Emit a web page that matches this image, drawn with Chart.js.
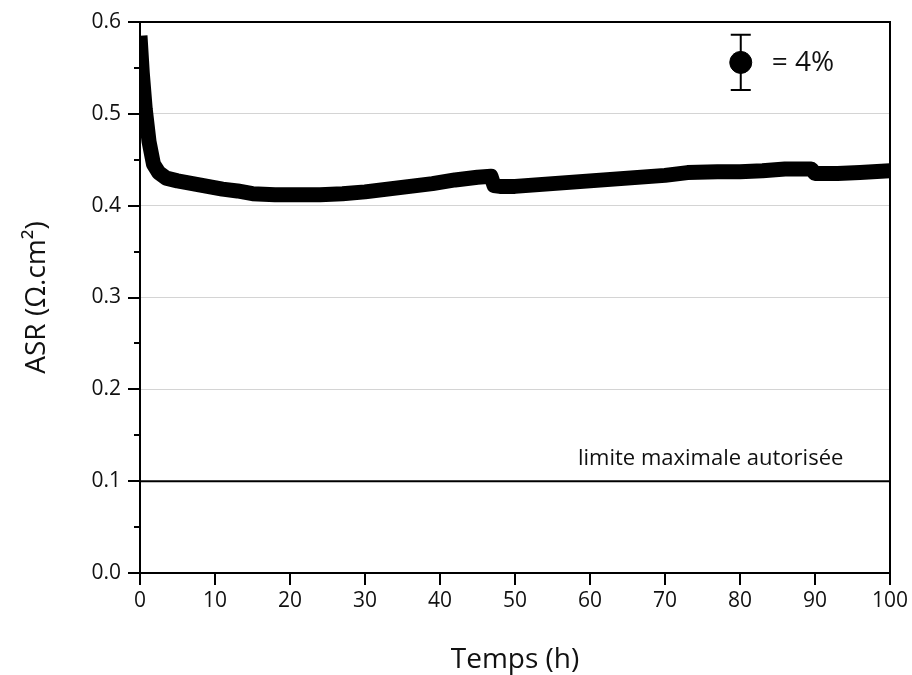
<!DOCTYPE html>
<html lang="fr">
<head>
    <meta charset="UTF-8">
    <title>ASR vs Temps</title>
    <script src="https://cdn.jsdelivr.net/npm/chart.js@4.4.1/dist/chart.umd.min.js"></script>
    <style>
        body { margin: 0; background: #fff; }
        .chart-box { width: 912px; height: 675px; }
    </style>
</head>
<body>
<div class="chart-box"><canvas id="asrChart"></canvas></div>
<script>
    // donnees
    const temps = [0, 0.3, 0.7, 1.2, 1.8, 2.5, 3.5, 5, 7, 9, 11, 13, 15, 18, 21, 24, 27, 30, 33, 36, 39, 42, 45, 46.8, 47.2, 48, 50, 55, 60, 65, 70, 73, 77, 80, 83, 86, 89.5, 90, 93, 96, 100];
    const asr = [0.585, 0.545, 0.505, 0.47, 0.445, 0.436, 0.43, 0.427, 0.424, 0.421, 0.418, 0.416, 0.413, 0.412, 0.412, 0.412, 0.413, 0.415, 0.418, 0.421, 0.424, 0.428, 0.431, 0.432, 0.422, 0.421, 0.421, 0.424, 0.427, 0.43, 0.433, 0.436, 0.437, 0.437, 0.438, 0.44, 0.44, 0.435, 0.435, 0.436, 0.438];

    // limite maximale autorisee
    const limiteX = [0, 100];
    const limiteY = [0.1, 0.1];
    const limiteTexte = 'limite maximale autorisée';

    // symbole de la barre d'erreur (= 4%)
    const cleX = [80.1];
    const cleY = [0.556];
    const cleErr = [0.03];
    const cleTexte = '= 4%';

    const xTicks = [0, 10, 20, 30, 40, 50, 60, 70, 80, 90, 100];
    const yTicks = [0.0, 0.1, 0.2, 0.3, 0.4, 0.5, 0.6];

    const police = '"Open Sans", "DejaVu Sans", sans-serif';
    Chart.defaults.font.family = police;
    Chart.defaults.color = '#111';

    function isMajor(v, step) {
        return Math.abs(v / step - Math.round(v / step)) < 1e-6;
    }

    // cadre, graduations, barre d'erreur et textes
    const decorPlugin = {
        id: 'decor',
        beforeDatasetsDraw(chart) {
            const ctx = chart.ctx;
            const xs = chart.scales.x, ys = chart.scales.y;
            // moustaches derriere le point
            ctx.save();
            ctx.strokeStyle = '#000';
            ctx.lineWidth = 2;
            for (let i = 0; i < cleX.length; i++) {
                const px = xs.getPixelForValue(cleX[i]);
                const top = ys.getPixelForValue(cleY[i] + cleErr[i]);
                const bot = ys.getPixelForValue(cleY[i] - cleErr[i]);
                ctx.beginPath();
                ctx.moveTo(px, top); ctx.lineTo(px, bot);
                ctx.moveTo(px - 10, top); ctx.lineTo(px + 10, top);
                ctx.moveTo(px - 10, bot); ctx.lineTo(px + 10, bot);
                ctx.stroke();
            }
            ctx.restore();
        },
        afterDraw(chart) {
            const ctx = chart.ctx;
            const a = chart.chartArea;
            const xs = chart.scales.x, ys = chart.scales.y;
            ctx.save();
            ctx.strokeStyle = '#000';
            ctx.lineWidth = 2;
            ctx.strokeRect(a.left, a.top, a.right - a.left, a.bottom - a.top);
            // graduations
            ctx.beginPath();
            ys.ticks.forEach(t => {
                const py = Math.round(ys.getPixelForValue(t.value));
                const len = isMajor(t.value, 0.1) ? 12 : 6;
                ctx.moveTo(a.left - len, py); ctx.lineTo(a.left, py);
            });
            xs.ticks.forEach(t => {
                const px = Math.round(xs.getPixelForValue(t.value));
                const len = isMajor(t.value, 10) ? 12 : 6;
                ctx.moveTo(px, a.bottom); ctx.lineTo(px, a.bottom + len);
            });
            ctx.stroke();

            // textes
            ctx.fillStyle = '#111';
            ctx.textBaseline = 'middle';
            ctx.font = '22px ' + police;
            ctx.fillText(limiteTexte, xs.getPixelForValue(58.4), ys.getPixelForValue(0.124));
            ctx.font = '28px ' + police;
            ctx.fillText(cleTexte, xs.getPixelForValue(cleX[0]) + 31, ys.getPixelForValue(cleY[0]) + 1);
            ctx.restore();
        }
    };

    new Chart(document.getElementById('asrChart'), {
        type: 'scatter',
        data: {
            datasets: [
                {
                    label: 'ASR',
                    data: temps.map((t, i) => ({ x: t, y: asr[i] })),
                    showLine: true,
                    borderColor: '#000',
                    borderWidth: 15,
                    borderJoinStyle: 'round',
                    pointRadius: 0,
                    tension: 0
                },
                {
                    label: 'limite',
                    data: limiteX.map((t, i) => ({ x: t, y: limiteY[i] })),
                    showLine: true,
                    borderColor: '#000',
                    borderWidth: 2,
                    pointRadius: 0
                },
                {
                    label: 'cle',
                    data: cleX.map((t, i) => ({ x: t, y: cleY[i] })),
                    pointRadius: 11,
                    pointBackgroundColor: '#000',
                    pointBorderColor: '#000'
                }
            ]
        },
        options: {
            responsive: true,
            maintainAspectRatio: false,
            animation: false,
            layout: { padding: { top: 22, right: 22, left: 0, bottom: 0 } },
            plugins: {
                legend: { display: false },
                tooltip: { enabled: false }
            },
            scales: {
                x: {
                    type: 'linear',
                    min: 0,
                    max: 100,
                    afterFit: s => { s.height = 102; s.paddingLeft = 0; s.paddingRight = 0; },
                    ticks: {
                        stepSize: 5,
                        padding: 15,
                        maxRotation: 0,
                        font: { size: 21 },
                        callback: v => xTicks.includes(v) ? String(v) : ''
                    },
                    grid: { display: false, drawTicks: false },
                    border: { display: false },
                    title: {
                        display: true,
                        text: 'Temps (h)',
                        font: { size: 28, lineHeight: 1.0 },
                        padding: { top: 10, bottom: 1 }
                    }
                },
                y: {
                    min: 0,
                    max: 0.6,
                    afterFit: s => { s.width = 140; s.paddingTop = 0; s.paddingBottom = 0; },
                    ticks: {
                        stepSize: 0.05,
                        padding: 19,
                        font: { size: 21 },
                        callback: v => {
                            const m = yTicks.find(t => Math.abs(t - v) < 1e-6);
                            return m === undefined ? '' : m.toFixed(1);
                        }
                    },
                    grid: {
                        drawTicks: false,
                        lineWidth: 1,
                        color: c => {
                            const v = c.tick.value;
                            return (isMajor(v, 0.1) && v > 0.05 && v < 0.55) ? '#d4d4d4' : 'rgba(0,0,0,0)';
                        }
                    },
                    border: { display: false },
                    title: {
                        display: true,
                        text: 'ASR (Ω.cm²)',
                        font: { size: 28, lineHeight: 1.0 },
                        padding: { top: 23, bottom: 10 }
                    }
                }
            }
        },
        plugins: [decorPlugin]
    });
</script>
</body>
</html>
